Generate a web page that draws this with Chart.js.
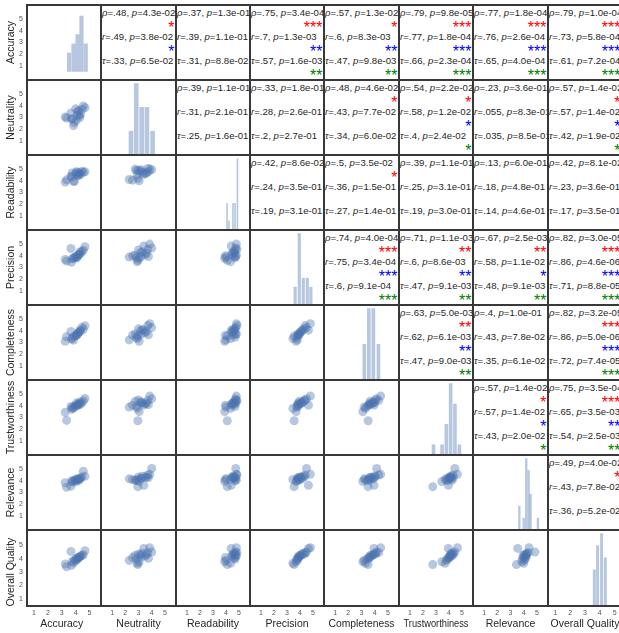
<!DOCTYPE html>
<html><head><meta charset="utf-8">
<script src="https://cdn.jsdelivr.net/npm/chart.js@4.4.1/dist/chart.umd.min.js"></script>
<style>
html,body{margin:0;padding:0;background:#fff;}
#root{position:relative;width:619px;height:633px;overflow:hidden;background:#fff;font-family:"Liberation Sans",Arial,sans-serif;}
.cv{position:absolute;display:block;}
.txt{position:absolute;overflow:hidden;color:#262626;font-size:9.6px;white-space:nowrap;}
.ln{position:absolute;left:1px;line-height:12px;height:12px;}
.st{position:absolute;right:1.5px;font-size:16px;line-height:16px;height:16px;letter-spacing:0px;}
.fr{position:absolute;background:#383838;}
</style></head><body><div id="root"></div>
<script>
// ---------------- data ----------------
const variables = ["Accuracy","Neutrality","Readability","Precision","Completeness","Trustworthiness","Relevance","Overall Quality"];
const accuracy        = [3.35,3.70,3.25,3.85,3.75,4.00,3.90,4.10,4.15,4.05,4.20,4.25,4.30,4.35,4.45,4.55,3.66,4.67];
const neutrality      = [2.95,2.90,3.05,2.30,2.85,3.75,2.55,3.20,3.50,2.75,3.60,3.15,3.00,3.30,3.70,4.00,3.40,3.85];
const readability     = [4.10,4.35,3.90,4.00,4.70,4.60,3.95,4.75,4.45,4.80,4.50,4.65,4.70,4.55,4.85,4.75,4.40,4.80];
const precision       = [3.55,3.45,3.70,3.80,3.75,3.85,3.90,3.85,4.00,3.95,4.10,4.15,4.35,4.20,4.40,4.50,4.65,4.80];
const completeness    = [3.50,3.30,3.10,3.20,3.40,3.60,3.55,3.65,3.75,3.65,3.85,3.90,4.05,4.00,4.30,4.15,3.95,4.45];
const trustworthiness = [2.75,3.70,3.45,3.80,3.85,4.00,3.95,4.10,4.05,4.25,4.10,4.20,4.35,4.15,4.30,4.45,3.95,4.65];
const relevance       = [3.45,4.00,3.85,4.05,3.90,4.15,4.00,4.10,4.20,3.95,4.15,4.05,4.20,4.25,4.35,4.85,3.55,4.40];
const overallQuality  = [3.40,3.50,3.60,3.70,3.80,3.85,3.90,3.95,4.00,4.05,4.10,4.10,4.15,4.20,4.25,4.30,4.55,4.60];

// histogram bins (centres) and counts
const accuracyBins = [3.34,3.64,3.91,4.18,4.47],        accuracyCounts = [2,3,4,6,3];
const neutralityBins = [2.50,2.85,3.21,3.56,3.94],      neutralityCounts = [2,6,4,4,2];
const readabilityBins = [3.95,4.08,4.35,4.49,4.65],     readabilityCounts = [3,1,3,3,8];
const precisionBins = [3.55,3.83,4.10,4.37,4.61],       precisionCounts = [2,8,3,3,2];
const completenessBins = [3.19,3.49,3.79,4.13],         completenessCounts = [3,6,6,3];
const trustworthinessBins = [2.83,3.41,3.70,3.99,4.28,4.58], trustworthinessCounts = [1,1,3,7,5,1];
const relevanceBins = [3.59,3.88,4.05,4.21,4.34,4.83],  relevanceCounts = [2,1,6,5,3,1];
const overallQualityBins = [3.63,3.85,4.12,4.37],       overallQualityCounts = [3,5,6,4];

const tickValues = [1,2,3,4,5];

// correlations for the upper triangle, row by row: (0,1)...(0,7),(1,2)...(6,7)
const spearmanRho = [".48",".37",".75",".57",".79",".77",".79", ".39",".33",".48",".54",".23",".57", ".42",".5",".39",".13",".42", ".74",".71",".67",".82", ".63",".4",".82", ".57",".75", ".49"];
const spearmanP   = ["4.3e-02","1.3e-01","3.4e-04","1.3e-02","9.8e-05","1.8e-04","1.0e-04", "1.1e-01","1.8e-01","4.6e-02","2.2e-02","3.6e-01","1.4e-02", "8.6e-02","3.5e-02","1.1e-01","6.0e-01","8.1e-02", "4.0e-04","1.1e-03","2.5e-03","3.0e-05", "5.0e-03","1.0e-01","3.2e-05", "1.4e-02","3.5e-04", "4.0e-02"];
const pearsonR    = [".49",".39",".7",".6",".77",".76",".73", ".31",".28",".43",".58",".055",".57", ".24",".36",".25",".18",".23", ".75",".6",".58",".86", ".62",".43",".86", ".57",".65", ".43"];
const pearsonP    = ["3.8e-02","1.1e-01","1.3e-03","8.3e-03","1.8e-04","2.6e-04","5.8e-04", "2.1e-01","2.6e-01","7.7e-02","1.2e-02","8.3e-01","1.4e-02", "3.5e-01","1.5e-01","3.1e-01","4.8e-01","3.6e-01", "3.4e-04","8.6e-03","1.1e-02","4.6e-06", "6.1e-03","7.8e-02","5.0e-06", "1.4e-02","3.5e-03", "7.8e-02"];
const kendallTau  = [".33",".31",".57",".47",".66",".65",".61", ".25",".2",".34",".4",".035",".42", ".19",".27",".19",".14",".17", ".6",".47",".48",".71", ".47",".35",".72", ".43",".54", ".36"];
const kendallP    = ["6.5e-02","8.8e-02","1.6e-03","9.8e-03","2.3e-04","4.0e-04","7.2e-04", "1.6e-01","2.7e-01","6.0e-02","2.4e-02","8.5e-01","1.9e-02", "3.1e-01","1.4e-01","3.0e-01","4.6e-01","3.5e-01", "9.1e-04","9.1e-03","9.1e-03","8.8e-05", "9.0e-03","6.1e-02","7.4e-05", "2.0e-02","2.5e-03", "5.2e-02"];

// ---------------- layout / style ----------------
const series = [accuracy,neutrality,readability,precision,completeness,trustworthiness,relevance,overallQuality];
const bins = [accuracyBins,neutralityBins,readabilityBins,precisionBins,completenessBins,trustworthinessBins,relevanceBins,overallQualityBins];
const counts = [accuracyCounts,neutralityCounts,readabilityCounts,precisionCounts,completenessCounts,trustworthinessCounts,relevanceCounts,overallQualityCounts];
const barWidths = [3.5,4,1,2.5,3,3,1.7,2.3];
const XE = [27,101,176,250,324,399,473,548,622];
const YE = [5,80,155,230,305,380,455,530,606];
const FULL_H = 633;
const PT = 'rgba(76,114,176,0.4)';
const FONT = '"Liberation Sans", Arial, sans-serif';
Chart.defaults.font.family = FONT;

const root = document.getElementById('root');

function setTicks(s){ s.ticks = tickValues.map(v => ({value: v})); }

function axisX(j, show){
  const a = {type:'linear', min:0.5, max:5.5, display:show, offset:false,
    grid:{display:false, drawTicks:false}, border:{display:false},
    ticks:{font:{size:7}, color:'#555', padding:3, maxRotation:0, autoSkip:false},
    afterBuildTicks:setTicks,
    title:{display:true, text:variables[j], color:'#262626', font:{size:10.5}, padding:{top:0,bottom:3}}};
  if (show) a.afterFit = s=>{s.height = FULL_H - YE[8];};
  return a;
}
function axisY(i, show){
  const a = {type:'linear', min:0.46, max:5.54, display:show,
    grid:{display:false, drawTicks:false}, border:{display:false},
    ticks:{font:{size:7}, color:'#555', padding:4, autoSkip:false},
    afterBuildTicks:setTicks,
    title:{display:true, text:variables[i], color:'#262626', font:{size:10.5}, padding:{top:5,bottom:0}}};
  if (show) a.afterFit = s=>{s.width = XE[0];};
  return a;
}

function makeCanvas(i,j){
  const left = j===0 ? 0 : XE[j];
  const top = YE[i];
  const w = XE[j+1] - left;
  const h = (i===7 ? FULL_H : YE[i+1]) - top;
  const c = document.createElement('canvas');
  c.className = 'cv';
  c.width = w; c.height = h;
  c.style.left = left+'px'; c.style.top = top+'px';
  c.style.width = w+'px'; c.style.height = h+'px';
  root.appendChild(c);
  return c;
}

const base = {responsive:false, animation:false, devicePixelRatio:1,
  layout:{padding:0}, plugins:{legend:{display:false}, tooltip:{enabled:false}}};

function stars(p){ const v = parseFloat(p); return v < 0.001 ? '***' : v < 0.01 ? '**' : v < 0.05 ? '*' : ''; }

let k = 0;
for (let i=0;i<8;i++){
  for (let j=0;j<8;j++){
    if (i>j){
      const c = makeCanvas(i,j);
      new Chart(c, {type:'scatter',
        data:{datasets:[{data: series[j].map((v,n)=>({x:v, y:series[i][n]})),
          pointRadius:4.5, pointHoverRadius:4.5, backgroundColor:PT, borderWidth:0}]},
        options:Object.assign({}, base, {scales:{x:axisX(j, i===7), y:axisY(i, j===0)}})});
    } else if (i===j){
      const c = makeCanvas(i,j);
      const mx = Math.max(...counts[i]);
      new Chart(c, {type:'bar',
        data:{datasets:[{data: bins[i].map((b,n)=>({x:b, y:counts[i][n]})), yAxisID:'yc',
          backgroundColor:PT, borderWidth:0, barThickness:barWidths[i]}]},
        options:Object.assign({}, base, {scales:{
          x:axisX(j, i===7), y:axisY(i, j===0),
          yc:{type:'linear', display:false, min:0, max:mx*1.05}}})});
    } else {
      const d = document.createElement('div');
      d.className = 'txt';
      d.style.left = XE[j]+'px'; d.style.top = YE[i]+'px';
      d.style.width = (XE[j+1]-XE[j])+'px'; d.style.height = (YE[i+1]-YE[i])+'px';
      const rows = [
        [`<i>ρ</i>=${spearmanRho[k]}, <i>p</i>=${spearmanP[k]}`, stars(spearmanP[k]), '#ff0000'],
        [`<i>r</i>=${pearsonR[k]}, <i>p</i>=${pearsonP[k]}`, stars(pearsonP[k]), '#0000ff'],
        [`<i>τ</i>=${kendallTau[k]}, <i>p</i>=${kendallP[k]}`, stars(kendallP[k]), '#008000']];
      const lineTop = [1.7, 25.7, 50.2];
      const starTop = [15.0, 39.3, 63.3];
      let html = '';
      rows.forEach((r,n)=>{
        html += `<span class="ln" style="top:${lineTop[n]}px">${r[0]}</span>`;
        if (r[1]) html += `<span class="st" style="top:${starTop[n]}px;color:${r[2]}">${r[1]}</span>`;
      });
      d.innerHTML = html;
      root.appendChild(d);
      k++;
    }
  }
}
// panel frame lines
for (let n=0;n<XE.length;n++){
  const v = document.createElement('div'); v.className='fr';
  v.style.left=(XE[n]-0.75)+'px'; v.style.top=(YE[0]-0.75)+'px';
  v.style.width='1.5px'; v.style.height=(YE[8]-YE[0]+1.5)+'px';
  root.appendChild(v);
}
for (let n=0;n<YE.length;n++){
  const h = document.createElement('div'); h.className='fr';
  h.style.left=(XE[0]-0.75)+'px'; h.style.top=(YE[n]-0.75)+'px';
  h.style.height='1.5px'; h.style.width=(XE[8]-XE[0]+1.5)+'px';
  root.appendChild(h);
}
</script></body></html>
